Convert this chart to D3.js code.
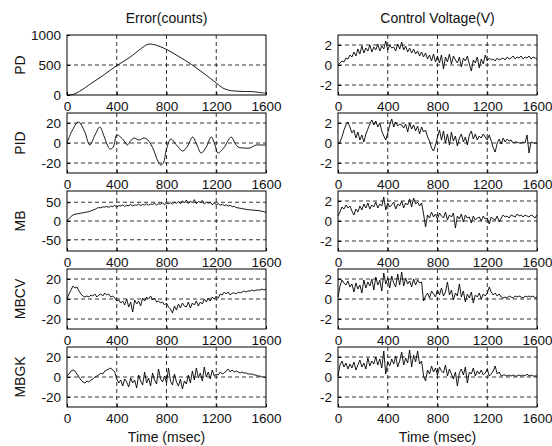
<!DOCTYPE html>
<html>
<head>
<meta charset="utf-8">
<script src="https://cdn.jsdelivr.net/npm/d3@7"></script>
<style>
  body { margin: 0; background: #fff; }
  svg { display: block; font-family: "Liberation Sans", Arial, sans-serif; }
</style>
</head>
<body>
<div id="viz-container"></div>
<script>
// sampling grid (msec) shared by the noisy traces
const timeMs = d3.range(0, 1601, 16);

const rowNames = ["PD", "PID", "MB", "MBCV", "MBGK"];
const xTicks = [0, 400, 800, 1200, 1600];
const errDomains = [[0, 1000], [-30, 30], [-80, 80], [-30, 30], [-30, 30]];
const errTicks = [[0, 500, 1000], [-20, 0, 20], [-50, 0, 50], [-20, 0, 20], [-20, 0, 20]];
const voltDomain = [-3, 3];
const voltTicks = [-2, 0, 2];

// Error(counts)
const pdErrT = [0, 50, 100, 200, 300, 400, 500, 600, 650, 700, 800, 900, 1000, 1100, 1200, 1250, 1300, 1400, 1500, 1550, 1600];
const pdErr = [0, 10, 60, 200, 340, 490, 620, 780, 845, 840, 760, 640, 510, 360, 200, 120, 80, 60, 55, 40, 30];

const pidErrT = [0, 40, 92, 140, 183, 225, 264, 300, 345, 372, 400, 430, 460, 485, 510, 539, 580, 620, 650, 673, 700, 730, 754, 775, 800, 835, 880, 930, 970, 1010, 1045, 1078, 1120, 1159, 1190, 1213, 1260, 1320, 1350, 1375, 1420, 1470, 1520, 1560, 1600];
const pidErr = [0, 12, 21, 12, -2, 8, 16, 6, -6, -4, 8, 6, 2, -2, 2, 5, 3, 5, 3, -1, -8, -18, -22, -20, -6, 4, -2, -8, -3, 6, -2, -10, -4, 6, -2, -10, -5, 6, 0, -4, -5, -5, -2, -2, -2];

const mbErr = [
  0, 6, 12, 16, 18, 19, 20, 21, 22, 23, 24, 25, 27, 29, 31, 34, 36, 35, 38, 37,
  39, 36, 40, 38, 42, 37, 41, 40, 43, 39, 42, 41, 44, 40, 43, 42, 45, 41, 44, 43,
  46, 42, 45, 44, 47, 43, 46, 45, 48, 44, 47, 46, 49, 45, 50, 47, 52, 46, 54, 48,
  56, 47, 53, 49, 57, 46, 52, 50, 55, 45, 51, 47, 50, 43, 48, 44, 46, 42, 45, 41,
  43, 40, 42, 38, 39, 36, 35, 34, 33, 32, 31, 30, 30, 29, 29, 28, 28, 27, 26, 25, 23];

const mbcvErr = [
  0, 5, 9, 13, 11, 12, 8, 5, 3, 2, 3, 2, 4, 3, 5, 2, 4, 5, 3, 6,
  4, 5, 2, 3, 1, -2, -1, -4, -2, -6, 0, -8, -3, -13, -1, -5, -2, -7, 1, -2,
  2, 0, 3, -1, 1, -3, -2, -4, -3, -6, -4, -8, -10, -14, -7, -11, -5, -9, -4, -7,
  -8, -3, -9, -4, -6, -2, -7, -3, -5, 0, -3, 1, -2, 2, 0, 3, 1, 5, 4, 7,
  5, 7, 4, 6, 6, 5, 7, 6, 7, 8, 7, 8, 8, 9, 8, 9, 9, 9, 10, 9, 10];

const mbgkErr = [
  1, 3, 6, 7, 6, 3, 0, -3, -5, -6, -4, -5, -3, -2, 0, 1, 2, 4, 3, 6,
  7, 8, 9, 7, 5, -2, -6, -3, -9, -2, -5, -10, -1, -6, -3, -11, 2, -4, -8, 5,
  -6, -1, -9, 4, -3, -7, 8, -2, -5, 1, -6, 9, -4, -8, 3, -5, -9, -2, -12, -4,
  -7, 2, -6, 6, -3, 9, -1, 4, -4, 10, 0, 5, -2, 7, 1, 3, 2, 5, 3, 4,
  6, 8, 5, 7, 5, 6, 5, 4, 5, 4, 4, 3, 3, 3, 2, 2, 1, 1, 0, 0, -1];

// Control Voltage(V)
const pdVolt = [
  0, 0.2, 0.4, 0.3, 0.7, 0.6, 1.0, 0.8, 1.3, 0.9, 1.6, 1.1, 1.9, 1.2, 1.7, 1.4, 2.0, 1.3, 1.8, 1.5,
  2.1, 1.4, 1.9, 1.6, 2.4, 1.5, 2.0, 1.7, 1.8, 1.4, 2.1, 1.6, 2.3, 1.5, 1.9, 1.3, 1.7, 1.2, 1.6, 1.1,
  1.4, 0.9, 1.3, 0.8, 1.2, 0.6, 1.0, 0.4, 1.1, 0.3, 0.9, 0.2, 1.0, -0.4, 0.8, 0.3, 1.1, 0.1, 0.9, 0.5,
  0.2, 0.8, -0.2, 0.7, 0.4, 0.9, 0.1, -0.6, 0.5, 0.2, 0.8, -0.3, 0.6, 0.1, 1.0, 0.4, 0.7, 0.5, 0.6, 0.4,
  0.7, 0.5, 0.6, 0.7, 0.5, 0.8, 0.6, 0.7, 0.9, 0.6, 0.8, 0.7, 0.9, 0.6, 0.8, 0.7, 0.9, 0.6, 0.8, 0.7, 0.6];

const pidVolt = [
  0, 0.1, 0.6, 1.3, 1.8, 2.1, 1.6, 1.0, 1.3, 0.5, 1.1, 0.3, 0.8, 0.1, 0.9, 1.4, 1.9, 2.3, 1.8, 2.2,
  1.6, 2.0, 1.2, 0.7, 0.3, 1.0, 1.8, 2.4, 1.6, 2.1, 1.7, 1.9, 1.8, 1.5, 1.9, 1.1, 2.0, 1.4, 1.8, 1.2,
  1.7, 0.9, 1.6, 1.1, 1.3, 0.6, 0.2, -0.5, -0.8, -0.2, 0.6, 1.3, 0.3, 1.2, 0.0, 0.9, -0.2, 1.1, 0.2, 0.7,
  -0.3, 0.5, 0.9, 0.1, 0.6, -0.2, 0.8, 1.2, 0.4, 0.9, 0.3, 0.7, 0.5, 0.9, 0.6, 0.3, 0.8, 0.2, -0.5, -0.9,
  0.0, 0.4, -0.1, 0.5, 0.1, 0.4, 0.2, 0.3, 0.0, 0.1, 0.1, 0.0, 0.0, 0.1, 0.0, 0.8, -1.0, 0.1, 0.0, 0.0, 0.0];

const mbVolt = [
  0.5, 0.9, 1.4, 1.2, 1.6, 1.3, 1.5, 1.0, 0.6, 1.2, 0.9, 1.5, 1.1, 1.7, 1.3, 1.8, 1.2, 1.6, 1.4, 1.9,
  1.3, 1.7, 1.5, 2.4, 1.1, 1.8, 1.4, 1.6, 1.9, 1.2, 1.7, 1.5, 2.0, 1.3, 1.8, 1.6, 2.2, 1.4, 2.3, 1.7,
  1.9, 1.5, 1.8, 0.7, -0.6, 0.6, 0.3, 0.9, 0.4, 0.7, 0.2, 0.8, 0.5, 0.3, 0.9, 0.1, 0.6, 0.4, 0.8, -0.7,
  0.5, 0.2, 0.7, -0.1, 0.6, 0.3, 0.4, -0.2, 0.5, 0.1, 0.3, 0.4, 0.0, 0.5, 0.2, 0.3, -0.3, 0.4, 0.2, 0.1,
  0.5, -0.1, 0.3, 0.6, 0.4, 0.5, 0.3, 0.6, 0.5, 0.4, 0.7, 0.5, 0.6, 0.4, 0.6, 0.5, 0.4, 0.6, 0.5, 0.3, 0.6];

const mbcvVolt = [
  0.2, 1.3, 1.9, 1.6, 1.4, 1.8, 1.2, 1.5, 0.7, 1.6, 1.0, 1.4, 0.6, 1.9, 1.1, 1.7, 1.3, 2.0, 0.9, 2.2,
  1.4, 1.9, 0.8, 2.6, 1.5, 2.1, 1.1, 2.3, 1.6, 1.2, 2.5, 1.4, 2.7, 1.3, 2.1, 1.5, 1.8, 1.2, 2.0, 1.4,
  1.9, 1.6, 1.7, -0.2, 0.3, 0.6, 0.1, 0.8, 0.5, 0.2, 0.9, 0.4, 1.1, 0.3, 0.7, 1.7, 0.4, 0.9, -0.1, 0.6,
  0.3, 1.5, 0.2, 0.8, -0.3, 0.5, 0.1, 0.7, -0.4, 0.4, 0.2, 0.6, 0.0, 0.5, 0.3, 0.6, 1.2, 0.7, 0.4, 0.6,
  0.3, 0.5, 0.2, 0.1, 0.2, 0.1, 0.3, 0.2, 0.1, 0.3, 0.2, 0.3, 0.2, 0.1, 0.3, 0.2, 0.3, 0.2, 0.3, 0.1, 0.2];

const mbgkVolt = [
  0.1, 1.2, 1.6, 1.0, 1.4, 0.8, 1.3, 0.9, 1.5, 0.7, 1.2, 1.7, 1.0, 1.4, 0.8, 1.9, 1.1, 1.6, 1.3, 2.0,
  1.2, 1.8, 0.9, 2.6, 0.3, 1.5, 1.1, 1.8, 1.3, 2.1, 1.0, 1.6, 2.5, 1.2, 1.9, 1.4, 2.7, 1.0, 2.2, 1.5,
  2.6, 1.3, 1.6, 0.1, -0.4, 0.7, 0.3, 1.1, 0.5, 0.9, 0.2, 1.0, 0.6, 0.4, 1.2, 0.1, 0.8, 0.3, -0.2, 0.5,
  -0.9, 0.4, 0.8, 0.2, 1.0, -0.6, 0.5, 0.3, 0.9, 0.1, 0.6, 0.3, 0.7, 0.2, 0.4, 0.8, 0.1, 0.3, 0.6, 1.1,
  0.3, 0.5, 0.1, 0.2, 0.2, 0.1, 0.2, 0.1, 0.2, 0.1, 0.1, 0.2, 0.1, 0.2, 0.1, 0.3, 0.1, 0.2, 0.1, 0.1, 0.1];

// the PD and PID errors are smooth traces, the rest are raw samples
const errSeries = [
  { t: pdErrT, v: pdErr, smooth: true },
  { t: pidErrT, v: pidErr, smooth: true },
  { t: timeMs, v: mbErr },
  { t: timeMs, v: mbcvErr },
  { t: timeMs, v: mbgkErr }
];
const voltSeries = [pdVolt, pidVolt, mbVolt, mbcvVolt, mbgkVolt].map(v => ({ t: timeMs, v: v }));

const width = 552, height = 446;
const colLeft = [67, 338];
const plotW = 199, plotH = 60;
const rowTop = 35, rowStep = 78;

const svg = d3.select("#viz-container").append("svg")
  .attr("width", width)
  .attr("height", height);

// plain integers with a hyphen minus, as in the original figure
const tickFmt = d => String(d);

function drawPanel(x0, y0, domain, ticks, series) {
  const g = svg.append("g").attr("transform", `translate(${x0},${y0})`);

  const x = d3.scaleLinear().domain([0, 1600]).range([0, plotW]);
  const y = d3.scaleLinear().domain(domain).range([plotH, 0]);

  // dashed grid
  g.append("g")
    .selectAll("line")
    .data(xTicks.slice(1, -1))
    .join("line")
    .attr("x1", d => x(d)).attr("x2", d => x(d))
    .attr("y1", 0).attr("y2", plotH)
    .attr("stroke", "#000")
    .attr("stroke-width", 0.8)
    .attr("stroke-dasharray", "4,3");

  g.append("g")
    .selectAll("line")
    .data(ticks.filter(d => d > domain[0] && d < domain[1]))
    .join("line")
    .attr("x1", 0).attr("x2", plotW)
    .attr("y1", d => y(d)).attr("y2", d => y(d))
    .attr("stroke", "#000")
    .attr("stroke-width", 0.8)
    .attr("stroke-dasharray", "4,3");

  const pts = series.v.map((d, i) => [series.t[i], d]).filter(p => p[0] !== undefined);

  const line = d3.line()
    .x(d => x(d[0]))
    .y(d => y(d[1]))
    .curve(series.smooth ? d3.curveCatmullRom : d3.curveLinear);

  g.append("path")
    .datum(pts)
    .attr("fill", "none")
    .attr("stroke", "#000")
    .attr("stroke-width", 0.9)
    .attr("d", line);

  // axes (ticks point inward like the original)
  const xAxis = g.append("g")
    .attr("transform", `translate(0,${plotH})`)
    .call(d3.axisBottom(x).tickValues(xTicks).tickFormat(tickFmt)
      .tickSizeInner(-3).tickSizeOuter(0).tickPadding(6));
  const yAxis = g.append("g")
    .call(d3.axisLeft(y).tickValues(ticks).tickFormat(tickFmt)
      .tickSizeInner(-3).tickSizeOuter(0).tickPadding(6));

  [xAxis, yAxis].forEach(a => {
    a.select(".domain").remove();
    a.selectAll("line").attr("stroke", "#000");
    a.selectAll("text")
      .style("font-size", "13.5px")
      .style("font-family", "'Liberation Sans', Arial, sans-serif")
      .attr("fill", "#111");
  });

  g.append("rect")
    .attr("width", plotW)
    .attr("height", plotH)
    .attr("fill", "none")
    .attr("stroke", "#000")
    .attr("stroke-width", 1);
}

rowNames.forEach((name, i) => {
  const y0 = rowTop + i * rowStep;
  drawPanel(colLeft[0], y0, errDomains[i], errTicks[i], errSeries[i]);
  drawPanel(colLeft[1], y0, voltDomain, voltTicks, voltSeries[i]);

  svg.append("text")
    .attr("transform", `translate(25,${y0 + plotH / 2}) rotate(-90)`)
    .attr("text-anchor", "middle")
    .style("font-size", "14px")
    .attr("fill", "#111")
    .text(name);
});

const titles = ["Error(counts)", "Control Voltage(V)"];
titles.forEach((t, j) => {
  svg.append("text")
    .attr("x", colLeft[j] + plotW / 2)
    .attr("y", 23)
    .attr("text-anchor", "middle")
    .style("font-size", "14px")
    .attr("fill", "#111")
    .text(t);

  svg.append("text")
    .attr("x", colLeft[j] + plotW / 2)
    .attr("y", 442)
    .attr("text-anchor", "middle")
    .style("font-size", "14px")
    .attr("fill", "#111")
    .text("Time (msec)");
});
</script>
</body>
</html>
